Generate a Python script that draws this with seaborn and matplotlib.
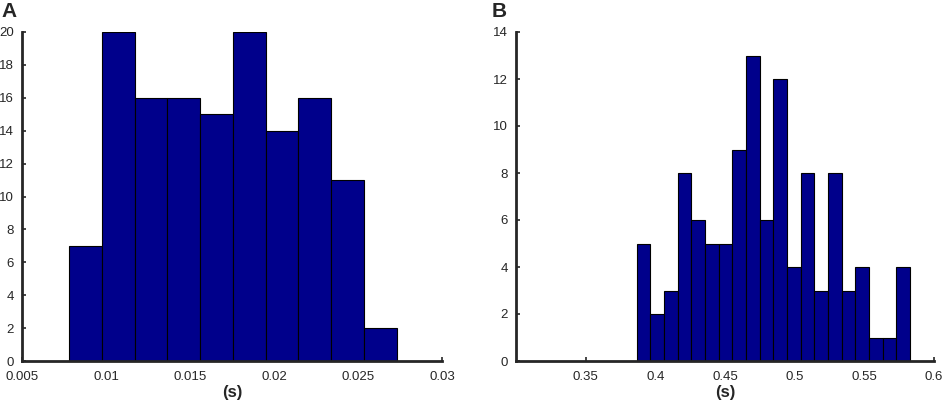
import seaborn as sns
import matplotlib.pyplot as plt
import numpy as np
import pandas as pd

# Panel A : histogramme à 10 classes
counts_a = [7, 20, 16, 16, 15, 20, 14, 16, 11, 2]
edges_a = np.linspace(0.0078, 0.0273, 11)

# Panel B : histogramme à 20 classes
counts_b = [5, 2, 3, 8, 6, 5, 5, 9, 13, 6, 12, 4, 8, 3, 8, 3, 4, 1, 1, 4]
edges_b = np.linspace(0.3865, 0.5829, 21)

xticks_a = [0.005, 0.01, 0.015, 0.02, 0.025, 0.03]
xticks_b = [0.35, 0.4, 0.45, 0.5, 0.55, 0.6]

sns.set_style('ticks')
plt.rcParams['font.family'] = ['Liberation Sans', 'DejaVu Sans']
plt.rcParams['xtick.direction'] = 'in'
plt.rcParams['ytick.direction'] = 'in'

fig = plt.figure(figsize=(9.45, 4.04), dpi=100)
ax_a = fig.add_axes([22/945, 1 - 361/404, 420/945, 329/404])
ax_b = fig.add_axes([516/945, 1 - 361/404, 418/945, 329/404])


def draw(ax, counts, edges, xlim, ylim, xticks, yticks, letter, lx):
    centers = (edges[:-1] + edges[1:]) / 2
    df = pd.DataFrame({'x': centers, 'n': counts})
    sns.histplot(data=df, x='x', weights='n', bins=list(edges), ax=ax,
                 color='#00008b', alpha=1, edgecolor='black', linewidth=0.8)
    ax.set_xlim(*xlim)
    ax.set_ylim(*ylim)
    ax.set_xticks(xticks)
    ax.set_xticklabels([f'{t:g}' for t in xticks])
    ax.set_yticks(yticks)
    ax.tick_params(labelsize=9.5, length=3, width=1.2)
    ax.tick_params(axis='x', pad=7)
    ax.tick_params(axis='y', pad=6)
    ax.set_xlabel('(s)', fontsize=12, fontweight='bold', labelpad=2)
    ax.set_ylabel('')
    sns.despine(ax=ax)
    for s in ['left', 'bottom']:
        ax.spines[s].set_linewidth(2)
    fig.text(lx, 1 - 2/404, letter, fontsize=15, fontweight='bold', va='top')


draw(ax_a, counts_a, edges_a, (0.005, 0.03), (0, 20), xticks_a,
     range(0, 21, 2), 'A', 1/945)
draw(ax_b, counts_b, edges_b, (0.3, 0.6), (0, 14), xticks_b,
     range(0, 15, 2), 'B', 492/945)

fig.savefig('out.png', dpi=100)
